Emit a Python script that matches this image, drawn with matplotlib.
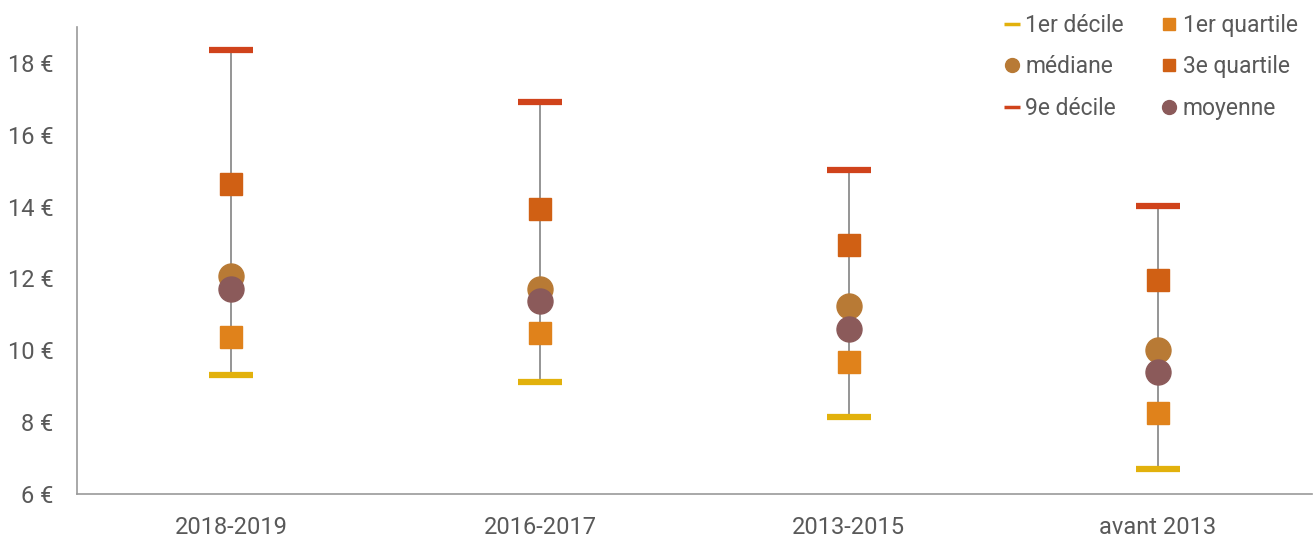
import numpy as np
import matplotlib.pyplot as plt
from matplotlib.lines import Line2D

# Data (hourly amounts in euros)
periods = ['2018-2019', '2016-2017', '2013-2015', 'avant 2013']
decile1 = [9.31, 9.11, 8.14, 6.70]
quartile1 = [10.37, 10.48, 9.67, 8.25]
mediane = [12.07, 11.70, 11.23, 10.00]
quartile3 = [14.63, 13.93, 12.93, 11.96]
decile9 = [18.36, 16.91, 15.02, 14.02]
moyenne = [11.70, 11.37, 10.59, 9.39]

c_d1 = '#E2B10C'
c_q1 = '#E0821B'
c_med = '#B87A35'
c_q3 = '#D06014'
c_d9 = '#D0431B'
c_moy = '#8B5A5A'
grey = '#595959'

plt.rcParams['font.family'] = ['Roboto', 'DejaVu Sans']

fig = plt.figure(figsize=(13.13, 5.39), dpi=100)
ax = fig.add_axes([77 / 1313, 45 / 539, 1235 / 1313, 467 / 539])

x = np.arange(len(periods))

# vertical whisker from 1st to 9th decile
ax.vlines(x, decile1, decile9, color='#8c8c8c', lw=1.3, zorder=1)

ax.plot(x, decile1, ls='none', marker='_', ms=32, mew=4.5, color=c_d1, zorder=2)
ax.plot(x, decile9, ls='none', marker='_', ms=32, mew=4.5, color=c_d9, zorder=2)
ax.plot(x, quartile1, ls='none', marker='s', ms=16, color=c_q1, zorder=3)
ax.plot(x, quartile3, ls='none', marker='s', ms=16, color=c_q3, zorder=3)
ax.plot(x, mediane, ls='none', marker='o', ms=18, color=c_med, zorder=4)
ax.plot(x, moyenne, ls='none', marker='o', ms=18, color=c_moy, zorder=5)

ax.set_xlim(-0.5, 3.5)
ax.set_ylim(6, 19)
ax.set_xticks(x)
ax.set_xticklabels(periods)
ax.set_yticks(np.arange(6, 19, 2))
ax.set_yticklabels([f'{v} €' for v in range(6, 19, 2)])
ax.tick_params(length=0, labelsize=17, colors=grey)
ax.tick_params(axis='x', pad=15.5)
ax.tick_params(axis='y', pad=17)

for s in ['top', 'right']:
    ax.spines[s].set_visible(False)
for s in ['left', 'bottom']:
    ax.spines[s].set_color('#9a9a9a')
    ax.spines[s].set_linewidth(1.2)

handles = [
    Line2D([], [], ls='none', marker='_', ms=12, mew=2.5, color=c_d1),
    Line2D([], [], ls='none', marker='o', ms=10, color=c_med),
    Line2D([], [], ls='none', marker='_', ms=12, mew=2.5, color=c_d9),
    Line2D([], [], ls='none', marker='s', ms=9, color=c_q1),
    Line2D([], [], ls='none', marker='s', ms=9, color=c_q3),
    Line2D([], [], ls='none', marker='o', ms=10, color=c_moy),
]
labels = ['1er décile', 'médiane', '9e décile', '1er quartile', '3e quartile', 'moyenne']
leg = ax.legend(handles, labels, ncol=2, loc='upper right', bbox_to_anchor=(1.005, 1.072),
                frameon=False, fontsize=16.5, handlelength=0.7, handletextpad=0.25,
                columnspacing=1.6, labelspacing=0.8, labelcolor=grey)

fig.savefig('out.png', dpi=100)
